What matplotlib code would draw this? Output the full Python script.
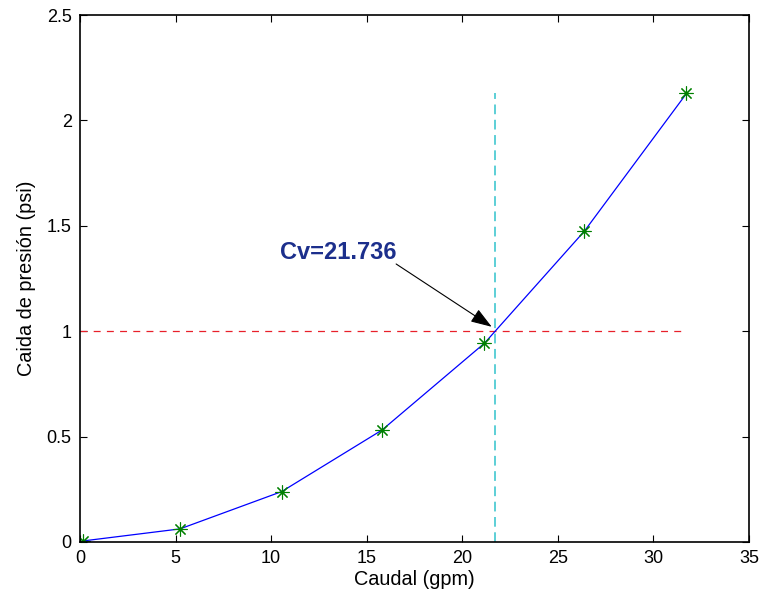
import matplotlib
matplotlib.use("Agg")
import matplotlib.pyplot as plt

# Flow vs pressure drop measurements
caudal = [0.17, 5.23, 10.55, 15.8, 21.16, 26.39, 31.73]
caida = [0.005, 0.062, 0.239, 0.531, 0.943, 1.475, 2.128]

cv = 21.736
ref_presion = 1.0

x_ticks = [0, 5, 10, 15, 20, 25, 30, 35]
y_ticks = [0, 0.5, 1, 1.5, 2, 2.5]
y_tick_labels = ['0', '0.5', '1', '1.5', '2', '2.5']

plt.rcParams['font.family'] = ['Liberation Sans', 'DejaVu Sans']
plt.rcParams['lines.scale_dashes'] = False

fig = plt.figure(figsize=(7.66, 6.03), dpi=100)
ax = fig.add_axes([0.1044, 0.1012, 0.8734, 0.8738])

# reference lines at 1 psi and at the Cv flow
ax.plot([0, max(caudal)], [ref_presion, ref_presion], color='#e8202a',
        linewidth=0.9, dashes=(5, 4.5))
ax.plot([cv, cv], [0, max(caida)], color='#5ccfd6', linewidth=1.4,
        dashes=(7, 4))

ax.plot(caudal, caida, color='#0000ff', linewidth=0.9,
        marker=(8, 2, 0), markersize=10, markeredgecolor='#008000',
        markerfacecolor='#008000', markeredgewidth=0.8)

# label and arrow pointing at the Cv crossing
ax.text(13.5, 1.342, 'Cv=21.736', ha='center', va='baseline',
        fontsize=17, fontweight='bold', color='#1c2f8c')
ax.annotate('', xy=(21.54, 1.021), xytext=(16.54, 1.319), textcoords='data',
            arrowprops=dict(arrowstyle='-|>,head_length=1.3,head_width=0.45',
                            color='black', linewidth=0.8,
                            shrinkA=0, shrinkB=0))

ax.set_xlim(0, 35)
ax.set_ylim(0, 2.5)
ax.set_xticks(x_ticks)
ax.set_xticklabels([str(t) for t in x_ticks])
ax.set_yticks(y_ticks)
ax.set_yticklabels(y_tick_labels)
ax.tick_params(direction='in', length=5, width=0.8, labelsize=13,
               top=True, right=True, pad=6)
for s in ax.spines.values():
    s.set_linewidth(1.2)

ax.set_xlabel('Caudal (gpm)', fontsize=14.3, labelpad=2)
ax.set_ylabel('Caida de presión (psi)', fontsize=14.3, labelpad=8)

fig.savefig('out.png', dpi=100)
